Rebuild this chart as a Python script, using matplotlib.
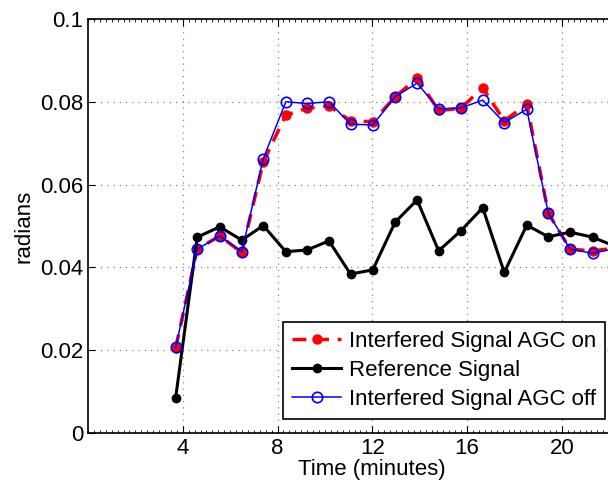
import matplotlib
matplotlib.use('Agg')
import matplotlib.pyplot as plt
from matplotlib.ticker import MultipleLocator

plt.rcParams['font.family'] = ['Liberation Sans', 'DejaVu Sans']

# time of each sample (minutes)
t = [3.70, 4.61, 5.56, 6.49, 7.40, 8.35, 9.24, 10.17, 11.08, 12.02, 12.96,
     13.89, 14.80, 15.73, 16.66, 17.57, 18.52, 19.43, 20.35, 21.30, 22.20]

agc_on = [0.0205, 0.0444, 0.0476, 0.0436, 0.0655, 0.0768, 0.0784, 0.0790,
          0.0754, 0.0752, 0.0812, 0.0857, 0.0779, 0.0784, 0.0834, 0.0754,
          0.0794, 0.0531, 0.0444, 0.0440, 0.0446]

reference = [0.0085, 0.0473, 0.0498, 0.0466, 0.0501, 0.0438, 0.0442, 0.0464,
             0.0384, 0.0394, 0.0509, 0.0563, 0.0440, 0.0488, 0.0544, 0.0388,
             0.0502, 0.0474, 0.0485, 0.0473, 0.0452]

agc_off = [0.0207, 0.0444, 0.0476, 0.0438, 0.0663, 0.0800, 0.0796, 0.0800,
           0.0746, 0.0744, 0.0812, 0.0845, 0.0783, 0.0785, 0.0804, 0.0750,
           0.0782, 0.0531, 0.0444, 0.0434, 0.0445]

fs = 16

fig = plt.figure(figsize=(6.08, 4.88), dpi=100)
ax = fig.add_axes([88 / 608, 55 / 488, 568.6 / 608, 414 / 488])

ax.plot(t, agc_on, color='red', linestyle='--', linewidth=2.5, dashes=(4, 2.5),
        marker='o', markersize=6.5, markeredgecolor='red', label='Interfered Signal AGC on')
ax.plot(t, reference, color='black', linewidth=2.2,
        marker='o', markersize=6, label='Reference Signal')
ax.plot(t, agc_off, color='blue', linewidth=1.1,
        marker='o', markersize=7.5, markerfacecolor='none', markeredgewidth=1.2,
        label='Interfered Signal AGC off')

ax.set_xlim(0, 24)
ax.set_ylim(0, 0.1)
ax.set_xticks([4, 8, 12, 16, 20])
ax.set_yticks([0, 0.02, 0.04, 0.06, 0.08, 0.1])
ax.set_yticklabels(['0', '0.02', '0.04', '0.06', '0.08', '0.1'])
ax.xaxis.set_minor_locator(MultipleLocator(0.25))
ax.tick_params(which='both', direction='in', top=True, right=True, labelsize=fs)
ax.tick_params(which='major', length=5)
ax.tick_params(which='minor', length=2)
ax.grid(True, which='major', linestyle=(0, (1, 4)), color='#888888', linewidth=0.9)
for s in ax.spines.values():
    s.set_linewidth(1.2)

ax.set_xlabel('Time (minutes)', fontsize=fs, labelpad=0)
ax.set_ylabel('radians', fontsize=fs, labelpad=4)

leg = ax.legend(loc='lower right', bbox_to_anchor=(605 / 608, 69 / 488),
                bbox_transform=fig.transFigure, fontsize=fs, fancybox=False,
                framealpha=1, edgecolor='black', borderaxespad=0, borderpad=0.4,
                handlelength=2.2, handletextpad=0.35, labelspacing=0.36)
leg.get_frame().set_linewidth(1.2)

plt.savefig('out.png', dpi=100)
